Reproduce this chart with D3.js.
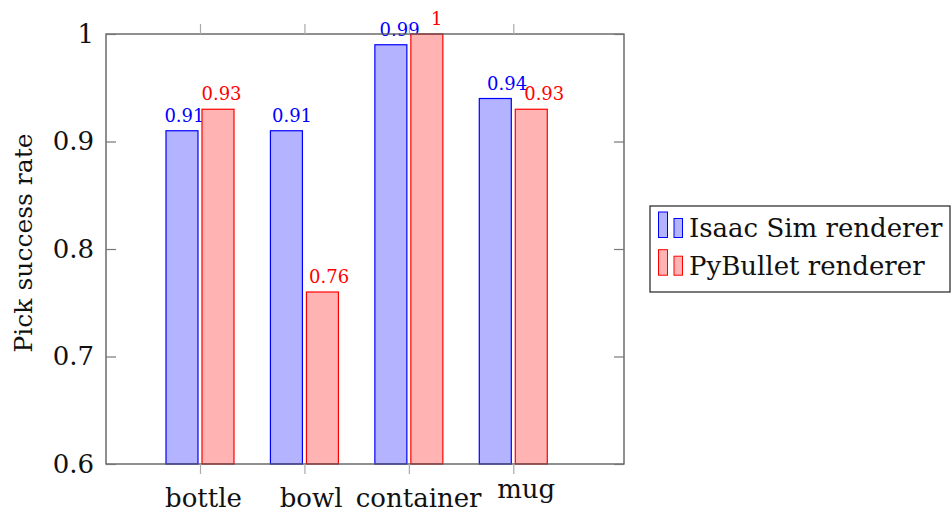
<!DOCTYPE html>
<html>
<head>
<meta charset="utf-8">
<style>
  body { margin: 0; background: #fff; }
  text { font-family: "DejaVu Serif", "Liberation Serif", serif; }
</style>
<title>Pick success rate</title>
</head>
<body>
<div id="chart"></div>
<script src="https://d3js.org/d3.v7.min.js"></script>
<script>
// data
var categories = ["bottle", "bowl", "container", "mug"];
var isaacSim = [0.91, 0.91, 0.99, 0.94];
var pyBullet = [0.93, 0.76, 1, 0.93];
var yTicks = [0.6, 0.7, 0.8, 0.9, 1];
var seriesNames = ["Isaac Sim renderer", "PyBullet renderer"];

var width = 951, height = 512;
var pLeft = 106, pRight = 624, pTop = 34, pBottom = 464;
var bigFont = 26, smallFont = 18;

// text nodes in the original drift slightly right across the plot
function drift(px) { return (px - 100) * 0.03; }

var svg = d3.select("#chart").append("svg")
    .attr("width", width)
    .attr("height", height);

var x = d3.scaleLinear()
    .domain([-0.9, 4.06])
    .range([pLeft, pRight]);

var y = d3.scaleLinear()
    .domain([0.6, 1])
    .range([pBottom, pTop]);

var series = [
  { name: seriesNames[0], values: isaacSim, fill: "#b3b3ff", stroke: "#0000ff", off: -18 },
  { name: seriesNames[1], values: pyBullet, fill: "#ffb3b3", stroke: "#ff0000", off: 18 }
];
var barW = 32;

// bars
series.forEach(function(s) {
  var g = svg.append("g");
  g.selectAll("rect")
    .data(s.values)
    .enter().append("rect")
      .attr("x", function(d, i) { return x(i) + s.off - barW / 2; })
      .attr("y", function(d) { return y(d); })
      .attr("width", barW)
      .attr("height", function(d) { return y(0.6) - y(d); })
      .attr("fill", s.fill)
      .attr("stroke", s.stroke)
      .attr("stroke-width", 1.2);

  g.selectAll("text")
    .data(s.values)
    .enter().append("text")
      .attr("x", function(d, i) {
        var cx = x(i) + s.off;
        return cx + drift(cx);
      })
      .attr("y", function(d) { return y(d) - 9; })
      .attr("text-anchor", "middle")
      .attr("font-size", smallFont)
      .attr("fill", s.stroke)
      .text(function(d) { return d; });
});

// frame
svg.append("rect")
    .attr("x", pLeft).attr("y", pTop)
    .attr("width", pRight - pLeft).attr("height", pBottom - pTop)
    .attr("fill", "none")
    .attr("stroke", "#555")
    .attr("stroke-width", 1.3);

// x axis bottom
var xb = svg.append("g")
    .attr("transform", "translate(0," + pBottom + ")")
    .call(d3.axisBottom(x)
      .tickValues(d3.range(categories.length))
      .tickFormat(function(i) { return categories[i]; })
      .tickSize(10)
      .tickPadding(18));
xb.select(".domain").remove();
xb.selectAll("line").attr("stroke", "#aaa").attr("stroke-width", 1.2);
xb.selectAll("text")
    .attr("font-size", bigFont)
    .attr("fill", "#111")
    .attr("font-family", "DejaVu Serif, serif")
    .attr("dy", null)
    .attr("y", function(i) {
      // labels hang from their top, so words without tall letters sit higher
      return /[bdfhklt]/.test(categories[i]) ? 43 : 34;
    })
    .attr("x", function(i) { return drift(x(i)); });

// x axis top
var xt = svg.append("g")
    .attr("transform", "translate(0," + pTop + ")")
    .call(d3.axisTop(x)
      .tickValues(d3.range(categories.length))
      .tickFormat("")
      .tickSize(10));
xt.select(".domain").remove();
xt.selectAll("line").attr("stroke", "#aaa").attr("stroke-width", 1.2);

// y axis left (ticks inside)
var yl = svg.append("g")
    .attr("transform", "translate(" + pLeft + ",0)")
    .call(d3.axisLeft(y)
      .tickValues(yTicks)
      .tickFormat(function(d) { return d === 1 ? "1" : d3.format(".1f")(d); })
      .tickSizeInner(-10)
      .tickSizeOuter(0)
      .tickPadding(12));
yl.select(".domain").remove();
yl.selectAll("line").attr("stroke", "#777").attr("stroke-width", 1.2);
yl.selectAll("text")
    .attr("font-size", bigFont)
    .attr("fill", "#111")
    .attr("font-family", "DejaVu Serif, serif");

// y axis right (ticks inside)
var yr = svg.append("g")
    .attr("transform", "translate(" + pRight + ",0)")
    .call(d3.axisRight(y)
      .tickValues(yTicks)
      .tickFormat("")
      .tickSizeInner(-10)
      .tickSizeOuter(0));
yr.select(".domain").remove();
yr.selectAll("line").attr("stroke", "#777").attr("stroke-width", 1.2);

// y title
svg.append("text")
    .attr("transform", "translate(32,243) rotate(-90)")
    .attr("text-anchor", "middle")
    .attr("font-size", 25)
    .attr("fill", "#111")
    .text("Pick success rate");

// legend
var lg = svg.append("g").attr("transform", "translate(650,206)");
lg.append("rect")
    .attr("width", 300).attr("height", 86)
    .attr("fill", "#fff")
    .attr("stroke", "#222")
    .attr("stroke-width", 1.2);

var item = lg.selectAll("g.item")
    .data(series)
    .enter().append("g")
      .attr("class", "item")
      .attr("transform", function(d, i) { return "translate(0," + (i * 37.7) + ")"; });

item.append("rect")
    .attr("x", 8.5).attr("y", 6)
    .attr("width", 9).attr("height", 25.5)
    .attr("fill", function(d) { return d.fill; })
    .attr("stroke", function(d) { return d.stroke; });
item.append("rect")
    .attr("x", 24).attr("y", 12.5)
    .attr("width", 8.5).attr("height", 19)
    .attr("fill", function(d) { return d.fill; })
    .attr("stroke", function(d) { return d.stroke; });
item.append("text")
    .attr("x", 39).attr("y", 31)
    .attr("font-size", bigFont)
    .attr("fill", "#111")
    .text(function(d) { return d.name; });
</script>
</body>
</html>
